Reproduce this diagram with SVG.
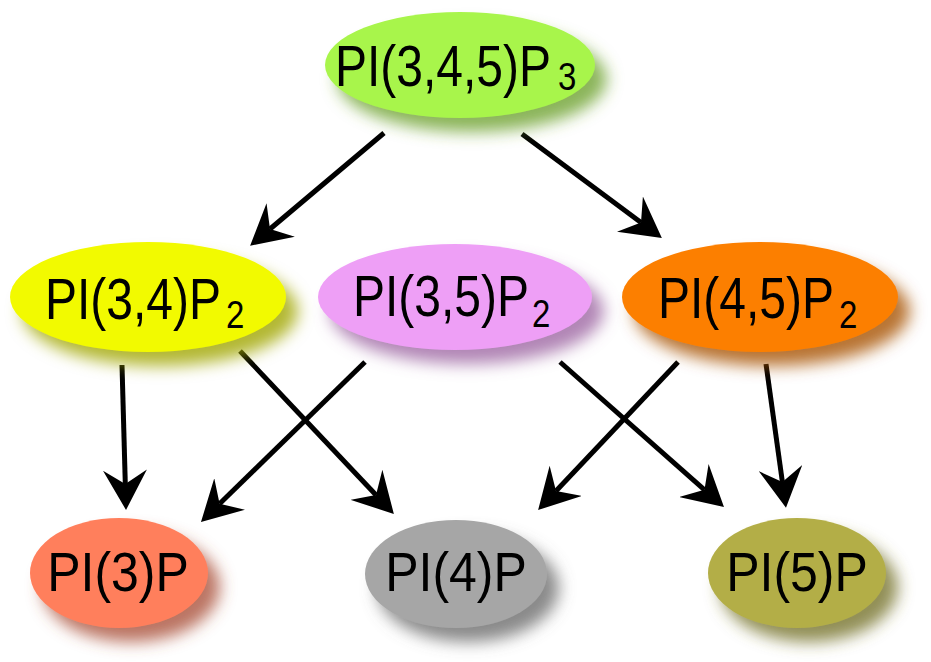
<svg xmlns="http://www.w3.org/2000/svg" width="931" height="662" viewBox="0 0 931 662">
<defs>
<style>
.lbl{font-family:"Liberation Sans",Arial,Helvetica,sans-serif;font-size:48px;fill:#000}
.sub{font-size:33px}
.one{font-size:50px;text-anchor:middle}
.edge{stroke:#000;stroke-width:5;fill:none;marker-end:url(#ah)}
</style>
<filter id="sh" x="-20%" y="-30%" width="150%" height="170%">
<feColorMatrix in="SourceGraphic" type="matrix" values="0.4 0 0 0 0  0 0.4 0 0 0  0 0 0.4 0 0  0 0 0 0.8 0"/>
<feGaussianBlur stdDeviation="8"/>
<feOffset dx="12" dy="14"/>
<feMerge><feMergeNode/><feMergeNode in="SourceGraphic"/></feMerge>
</filter>
<marker id="ah" markerUnits="userSpaceOnUse" viewBox="0 0 40 44" markerWidth="40" markerHeight="44" refX="14" refY="22" orient="auto">
<path d="M40,22 L0,0 L14,22 L0,44 Z" fill="#000"/>
</marker>
</defs>
<rect width="931" height="662" fill="#fff"/>
<g id="connectors">
<line class="edge" x1="384" y1="133" x2="270" y2="229"/>
<line class="edge" x1="522" y1="134" x2="641" y2="222.5"/>
<line class="edge" x1="122" y1="365" x2="125.3" y2="484"/>
<line class="edge" x1="240" y1="351" x2="376" y2="495"/>
<line class="edge" x1="365" y1="362" x2="219.6" y2="503.8"/>
<line class="edge" x1="560" y1="362" x2="704.5" y2="489.8"/>
<line class="edge" x1="678" y1="362" x2="556" y2="491"/>
<line class="edge" x1="766" y1="364" x2="782.4" y2="482"/>
</g>
<g id="pi345p3">
<ellipse cx="460" cy="65" rx="135" ry="53" fill="#a8f54b" filter="url(#sh)"/>
<text class="lbl" transform="translate(0,86) scale(1,1.2)"><tspan x="335" y="0">PI(3,4,5)P</tspan><tspan class="sub" x="558" y="3.5">3</tspan></text>
</g>
<g id="pi34p2">
<ellipse cx="148" cy="297" rx="138" ry="55" fill="#f2fa00" filter="url(#sh)"/>
<text class="lbl" transform="translate(0,319) scale(1,1.2)"><tspan x="45" y="0">PI(3,4)P</tspan><tspan class="sub" x="226" y="7.5">2</tspan></text>
</g>
<g id="pi35p2">
<ellipse cx="455" cy="297" rx="137" ry="53" fill="#ee9ff6" filter="url(#sh)"/>
<text class="lbl" transform="translate(0,316) scale(1,1.2)"><tspan x="353" y="0">PI(3,5)P</tspan><tspan class="sub" x="532" y="9">2</tspan></text>
</g>
<g id="pi45p2">
<ellipse cx="760" cy="297" rx="138" ry="55" fill="#fc7f05" filter="url(#sh)"/>
<text class="lbl" transform="translate(0,318) scale(1,1.2)"><tspan x="658" y="0">PI(4,5)P</tspan><tspan class="sub" x="839" y="8.3">2</tspan></text>
</g>
<g id="pi3p">
<ellipse cx="119" cy="573" rx="89" ry="55" fill="#ff7f5c" filter="url(#sh)"/>
<text class="lbl one" transform="translate(118,591) scale(1,1.1)">PI(3)P</text>
</g>
<g id="pi4p">
<ellipse cx="456" cy="574" rx="91" ry="54" fill="#a6a6a6" filter="url(#sh)"/>
<text class="lbl one" transform="translate(456,591) scale(1,1.1)">PI(4)P</text>
</g>
<g id="pi5p">
<ellipse cx="797" cy="573" rx="89" ry="55" fill="#b3ae47" filter="url(#sh)"/>
<text class="lbl one" transform="translate(797,591) scale(1,1.1)">PI(5)P</text>
</g>
</svg>
